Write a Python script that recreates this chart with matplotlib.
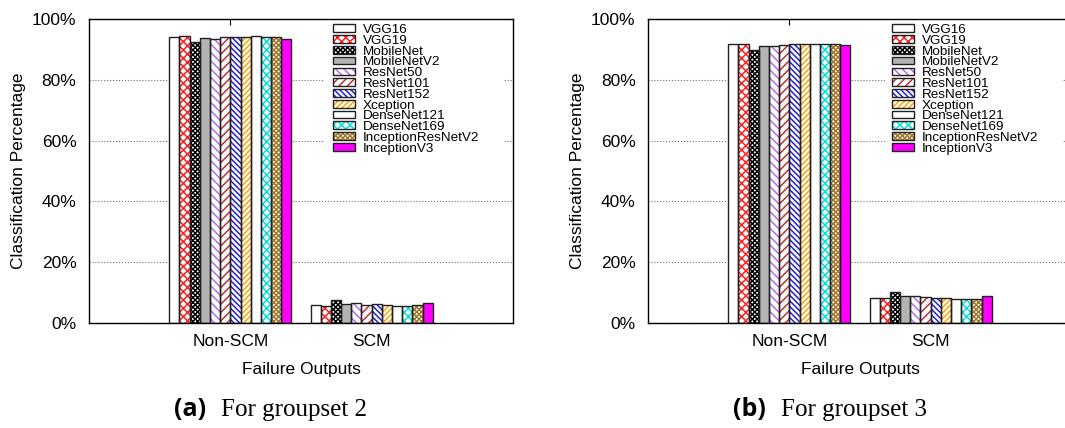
import matplotlib
matplotlib.use('Agg')
import matplotlib.pyplot as plt
import matplotlib.patches as mpatches
import numpy as np

plt.rcParams['font.family'] = ['Liberation Sans', 'DejaVu Sans']
plt.rcParams['hatch.linewidth'] = 1.1

# 数据
models = ['VGG16', 'VGG19', 'MobileNet', 'MobileNetV2', 'ResNet50', 'ResNet101',
          'ResNet152', 'Xception', 'DenseNet121', 'DenseNet169',
          'InceptionResNetV2', 'InceptionV3']
categories = ['Non-SCM', 'SCM']
non_scm_a = [94.2, 94.5, 92.3, 93.8, 93.3, 94.1, 94.1, 94.2, 94.4, 94.2, 94.0, 93.4]
scm_a = [5.8, 5.5, 7.5, 6.2, 6.6, 5.9, 6.2, 6.0, 5.7, 5.7, 5.9, 6.5]
non_scm_b = [91.9, 91.9, 89.7, 91.2, 91.1, 91.4, 91.8, 91.8, 91.9, 91.9, 91.9, 91.3]
scm_b = [8.1, 8.1, 10.2, 8.8, 8.9, 8.4, 8.1, 8.1, 8.0, 8.0, 8.0, 8.8]
y_ticks = [0, 20, 40, 60, 80, 100]

# 样式 (填充色, 阴影线, 阴影线颜色)
styles = [
    ('white', '', 'black'),
    ('white', 'xxxx', '#ff2020'),
    ('white', 'xxxxxxx', 'black'),
    ('#b4b4b4', '', 'black'),
    ('white', '\\\\\\\\', '#b070f0'),
    ('white', '////', '#c03030'),
    ('white', '\\' * 6, '#2020e0'),
    ('white', '/' * 6, '#ffa500'),
    ('white', '', 'black'),
    ('white', 'xxxx', '#00e0e0'),
    ('white', 'xxxxxxx', '#a07830'),
    ('#ff00ff', '', 'black'),
]

W, H = 1065, 428
fig = plt.figure(figsize=(W / 100, H / 100), dpi=100)

panels = [
    (89, non_scm_a, scm_a, '(a)', 'For groupset 2', 174, 221, 325, 333),
    (648, non_scm_b, scm_b, '(b)', 'For groupset 3', 733, 781, 885, 892),
]

w = 0.072
x = np.arange(1, len(categories) + 1)

for left, ns, sc, tag, cap, tx, cx, boxx, legx in panels:
    ax = fig.add_axes([left / W, 1 - 323 / H, 424 / W, 304 / H])
    ax.set_axisbelow(True)
    handles = []
    for i, m in enumerate(models):
        fc, h, hc = styles[i]
        vals = [ns[i], sc[i]]
        off = (i - 5.5) * w
        ax.bar(x + off, vals, w, color=fc, hatch=h, edgecolor=hc, linewidth=0, zorder=2)
        ax.bar(x + off, vals, w, fill=False, edgecolor='#202020', linewidth=1.0, zorder=3)
        handles.append((mpatches.Patch(facecolor=fc, hatch=h, edgecolor=hc, linewidth=0),
                        mpatches.Patch(fill=False, edgecolor='#202020', linewidth=1.0)))
    ax.set_xlim(0, 3)
    ax.set_ylim(0, 100)
    ax.set_xticks(x)
    ax.set_xticklabels(categories, fontsize=12.5)
    ax.set_yticks(y_ticks)
    ax.set_yticklabels([f'{t}%' for t in y_ticks], fontsize=12.5)
    ax.tick_params(axis='x', direction='in', top=True, length=4, pad=8)
    ax.tick_params(axis='y', length=0, pad=9)
    ax.yaxis.grid(True, linestyle=':', color='#707070', linewidth=0.8, zorder=0.5)
    ax.set_xlabel('Failure Outputs', fontsize=12.5, labelpad=9.5)
    ax.set_ylabel('Classification Percentage', fontsize=12.5, labelpad=4)
    for s in ax.spines.values():
        s.set_linewidth(1.0)

    # 图例背后的白框
    box = mpatches.Rectangle(((boxx - left) / 424, (323 - 160) / 304), 178 / 424, 1,
                             transform=ax.transAxes, facecolor='white',
                             edgecolor='none', zorder=1.5)
    ax.add_patch(box)
    ax.legend(handles, models, loc='upper left',
              bbox_to_anchor=(legx / W, 1 - 24 / H), bbox_transform=fig.transFigure,
              frameon=False, fontsize=9.7, labelspacing=-0.09, handlelength=1.6,
              handleheight=0.5, handletextpad=0.6, borderpad=0, borderaxespad=0)

    fig.text(tx / W, 1 - 416 / H, tag, fontsize=18, fontweight='bold',
             family=['Open Sans', 'DejaVu Sans'], ha='left', va='baseline')
    fig.text(cx / W, 1 - 416 / H, cap, fontsize=18,
             family=['Liberation Serif', 'DejaVu Serif'], ha='left', va='baseline')

fig.savefig('out.png', dpi=100)
